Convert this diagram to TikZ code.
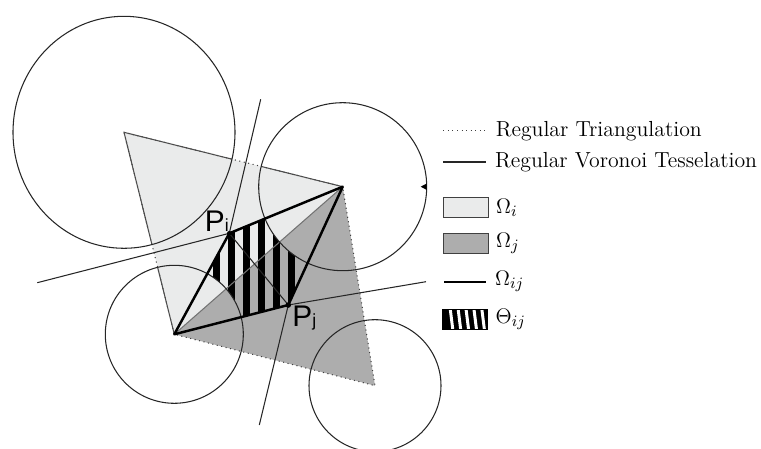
\documentclass[tikz,border=0pt]{standalone}
\usepackage{amsmath}
\usepackage{fontspec}
\newfontfamily\labelfont{Liberation Sans}
\usepackage{xcolor}
\usetikzlibrary{positioning, arrows.meta}

\definecolor{lightreg}{RGB}{234,235,235}
\definecolor{darkreg}{RGB}{173,173,173}

\begin{document}
\begin{tikzpicture}[
	% one unit is one pixel of the 761x449 frame, y pointing down
	x=0.02cm, y=-0.02cm,
	thinline/.style={line width=0.6pt, black!85},
	triedge/.style={dotted, line width=0.6pt, black!75},
	thickedge/.style={line width=1.4pt, line join=round},
	legtext/.style={font=\fontsize{12.4}{14}\selectfont, inner sep=4pt},
	legbox/.style={
		rectangle,
		draw=black!75,
		line width=0.6pt,
		minimum width=0.9cm,
		minimum height=0.39cm,
		inner sep=0pt
	},
	ptlabel/.style={font=\labelfont\fontsize{17}{20}\selectfont, inner sep=0pt}
	]
	
	\useasboundingbox (0,0) rectangle (761,449);
	
	% --- 1. Weighted points and power vertices ---
	\coordinate (A) at (124,132.3);
	\coordinate (B) at (342.7,186.7);
	\coordinate (C) at (174.3,334.3);
	\coordinate (D) at (375,385.7);
	\coordinate (Pi) at (229.3,233.3);
	\coordinate (Pj) at (288.3,305);
	
	% free ends of the Voronoi edges
	\coordinate (vtop) at (260.7,99.3);
	\coordinate (vleft) at (37.3,282.7);
	\coordinate (vright) at (426,281.7);
	\coordinate (vbot) at (259.3,425);
	
	% --- 2. Regions Omega_i and Omega_j ---
	\fill[lightreg] (A) -- (B) -- (C) -- cycle;
	\fill[darkreg] (C) -- (B) -- (D) -- cycle;
	
	% hatched region Theta_ij: rhombus without the two disks
	\begin{scope}
		\clip (C) -- (Pi) -- (B) -- (Pj) -- cycle;
		\begin{scope}[even odd rule]
			\clip (0,0) rectangle (761,449) (B) circle (84) (C) circle (69);
			\foreach \x in {212.5,227.5,...,300}
				\fill (\x,200) rectangle ++(7,150);
		\end{scope}
	\end{scope}
	
	% --- 3. Regular triangulation ---
	\draw[triedge] (A) -- (B) -- (D) -- (C) -- cycle;
	\begin{scope}
		\clip (A) ellipse [x radius=111, y radius=116] (B) circle (84) (C) circle (69);
		\draw[thinline, black!70] (B) -- (A) -- (C);
	\end{scope}
	\draw[thinline, black!55] (C) -- (B);
	
	% --- 4. Power circles ---
	\draw[thinline] (A) ellipse [x radius=111, y radius=116];
	\draw[thinline] (B) circle (84);
	\draw[thinline] (C) circle (69);
	\draw[thinline] (D) circle (66);
	\fill ([shift={(84,0)}]B) ++(0,-3.2) -- ++(-6,3.2) -- ++(6,3.2) -- cycle;
	
	% --- 5. Regular Voronoi tesselation ---
	\draw[thinline] (vtop) -- (Pi) -- (vleft);
	\draw[thinline] (vright) -- (Pj) -- (vbot);
	\draw[thinline] (Pi) -- (Pj);
	
	% Omega_ij
	\draw[thickedge] (C) -- (Pi) -- (B) -- (Pj) -- cycle;
	\fill (Pi) circle (2.3);
	\fill (Pj) circle (2.8);
	
	\node[ptlabel, anchor=base west] (lPi) at (204.5,231.7) {P{\fontsize{10}{11}\selectfont i}};
	\node[ptlabel, anchor=base west] (lPj) at (292,327) {P{\fontsize{10}{11}\selectfont j}};
	
	% --- 6. Legend ---
	\coordinate (ltriA) at (443.3,130.7);
	\coordinate (ltriB) at (486.7,130.7);
	\draw[triedge] (ltriA) -- (ltriB);
	\node[legtext, right=1pt of ltriB] (ltri) {Regular Triangulation};
	
	\coordinate (lvorA) at (443.3,162);
	\coordinate (lvorB) at (486,162);
	\draw[thinline] (lvorA) -- (lvorB);
	\node[legtext, right=1pt of lvorB] (lvor) {Regular Voronoi Tesselation};
	
	\node[legbox, fill=lightreg] (lomi) at (465.8,207.5) {};
	\node[legtext, right=0pt of lomi] (tomi) {$\Omega_i$};
	
	\node[legbox, fill=darkreg] (lomj) at (465.8,243.3) {};
	\node[legtext, right=0pt of lomj] (tomj) {$\Omega_j$};
	
	\coordinate (lomijA) at (444.3,281.7);
	\coordinate (lomijB) at (486,281.7);
	\draw[thickedge, line width=1.2pt] (lomijA) -- (lomijB);
	\node[legtext, right=1pt of lomijB] (tomij) {$\Omega_{ij}$};
	
	\node[legbox, draw=black, fill=black, path picture={
		\foreach \k in {0,...,4}
			\draw[white, line width=1.7pt]
				([xshift=\k*0.158cm+0.15cm]path picture bounding box.north west)
				-- ++(0.05cm,-0.4cm);
		}] (lthe) at (465.3,319.3) {};
	\node[legtext, right=0pt of lthe] (tthe) {$\Theta_{ij}$};
	
\end{tikzpicture}
\end{document}
